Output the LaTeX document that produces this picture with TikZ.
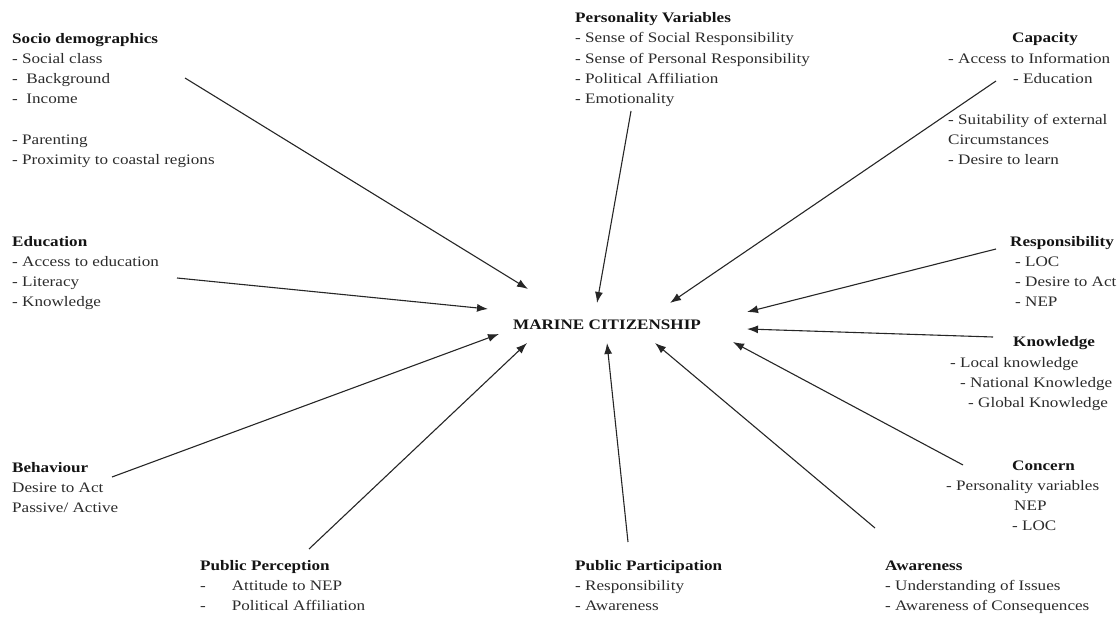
\documentclass[tikz,border=0pt]{standalone}
\usepackage{fontspec}
\setmainfont{Liberation Serif}[FakeStretch=1.18]
\usetikzlibrary{arrows.meta}
\definecolor{body}{HTML}{2B2B2B}
\definecolor{head}{HTML}{141414}
\definecolor{line}{HTML}{262626}
\tikzset{
  lbl/.style={anchor=base west, inner sep=0pt, text=body, font=\fontsize{14.5}{20.3}\selectfont},
  ttl/.style={lbl, text=head, font=\bfseries\fontsize{14.5}{20.3}\selectfont},
  link/.style={draw=line, line width=1.1pt, -{Latex[length=11pt,width=8pt]}},
}
\begin{document}
\begin{tikzpicture}[x=1pt,y=-1pt]
\useasboundingbox (0,0) rectangle (1118,617);

% centre
\node[ttl, anchor=center] (mc) at (607,325) {MARINE CITIZENSHIP};

% Socio demographics
\node[ttl] (sd0) at (12,44)  {Socio demographics};
\node[lbl] (sd1) at (12,64)  {- Social class};
\node[lbl] (sd2) at (12,84)  {-\ \ Background};
\node[lbl] (sd3) at (12,104) {-\ \ Income};
\node[lbl] (sd4) at (12,145) {- Parenting};
\node[lbl] (sd5) at (12,165) {- Proximity to coastal regions};

% Personality Variables
\node[ttl] (pv0) at (575,23)  {Personality Variables};
\node[lbl] (pv1) at (575,43)  {- Sense of Social Responsibility};
\node[lbl] (pv2) at (575,64)  {- Sense of Personal Responsibility};
\node[lbl] (pv3) at (575,84)  {- Political Affiliation};
\node[lbl] (pv4) at (575,104) {- Emotionality};

% Capacity
\node[ttl, anchor=base] (ca0) at (1045,43) {Capacity};
\node[lbl] (ca1) at (948,64)  {- Access to Information};
\node[lbl] (ca2) at (1013,84) {- Education};
\node[lbl] (ca3) at (948,125) {- Suitability of external};
\node[lbl] (ca4) at (948,145) {Circumstances};
\node[lbl] (ca5) at (948,165) {- Desire to learn};

% Education
\node[ttl] (ed0) at (12,247) {Education};
\node[lbl] (ed1) at (12,267) {- Access to education};
\node[lbl] (ed2) at (12,287) {- Literacy};
\node[lbl] (ed3) at (12,307) {- Knowledge};

% Responsibility
\node[ttl] (re0) at (1010,247) {Responsibility};
\node[lbl] (re1) at (1015,267) {- LOC};
\node[lbl] (re2) at (1015,287) {- Desire to Act};
\node[lbl] (re3) at (1015,307) {- NEP};

% Knowledge
\node[ttl] (kn0) at (1013,346) {Knowledge};
\node[lbl] (kn1) at (950,367)  {- Local knowledge};
\node[lbl] (kn2) at (960,387)  {- National Knowledge};
\node[lbl] (kn3) at (968,407)  {- Global Knowledge};

% Behaviour
\node[ttl] (be0) at (12,472) {Behaviour};
\node[lbl] (be1) at (12,492) {Desire to Act};
\node[lbl] (be2) at (12,512) {Passive/ Active};

% Concern
\node[ttl] (co0) at (1012,470) {Concern};
\node[lbl] (co1) at (946,490)  {- Personality variables};
\node[lbl] (co2) at (1014,510) {NEP};
\node[lbl] (co3) at (1012,530) {- LOC};

% Public Perception
\node[ttl] (pp0) at (200,570) {Public Perception};
\node[lbl] (pp1) at (200,590) {-\hspace{26pt}Attitude to NEP};
\node[lbl] (pp2) at (200,610) {-\hspace{26pt}Political Affiliation};

% Public Participation
\node[ttl] (pa0) at (575,570) {Public Participation};
\node[lbl] (pa1) at (575,590) {- Responsibility};
\node[lbl] (pa2) at (575,610) {- Awareness};

% Awareness
\node[ttl] (aw0) at (885,570) {Awareness};
\node[lbl] (aw1) at (885,590) {- Understanding of Issues};
\node[lbl] (aw2) at (885,610) {- Awareness of Consequences};

% connector ends
\coordinate (t-sd) at (185,78);   \coordinate (h-sd) at (528,289);
\coordinate (t-pv) at (631,111);  \coordinate (h-pv) at (597,303);
\coordinate (t-ca) at (996,81);   \coordinate (h-ca) at (670,303);
\coordinate (t-ed) at (177,278);  \coordinate (h-ed) at (488,309);
\coordinate (t-re) at (996,249);  \coordinate (h-re) at (747,312);
\coordinate (t-kn) at (993,337);  \coordinate (h-kn) at (747,329);
\coordinate (t-be) at (112,477);  \coordinate (h-be) at (499,334);
\coordinate (t-co) at (963,465);  \coordinate (h-co) at (733,342);
\coordinate (t-pp) at (309,549);  \coordinate (h-pp) at (527,343);
\coordinate (t-pa) at (628,542);  \coordinate (h-pa) at (607,343);
\coordinate (t-aw) at (875,528);  \coordinate (h-aw) at (655,343);

\foreach \k in {sd,pv,ca,ed,re,kn,be,co,pp,pa,aw}
  \draw[link] (t-\k) -- (h-\k);
\end{tikzpicture}
\end{document}
